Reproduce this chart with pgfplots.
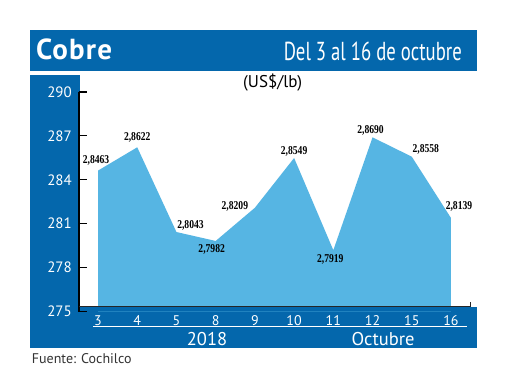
\documentclass[border=0pt]{standalone}
\usepackage{pgfplots}
\pgfplotsset{compat=1.18}
\usepackage{pgfplotstable}
\usepackage{graphicx}
\usepackage{fontspec}
\setmainfont{PT Sans}
\newfontfamily\datafont{Liberation Serif}
\newfontfamily\titlefont[LetterSpace=4]{PT Sans}
\definecolor{band}{RGB}{4,103,172}
\definecolor{areafill}{RGB}{86,181,227}

\pgfplotstableread{
x y lab dx dy
0 284.63 2,8463 -2 10
1 286.22 2,8622 0 10
2 280.43 2,8043 14 7
3 279.82 2,7982 -4 -8
4 282.09 2,8209 -20 1
5 285.49 2,8549 0 7
6 279.19 2,7919 -3 -9
7 286.90 2,8690 -2 7
8 285.58 2,8558 14 7
9 281.39 2,8139 8 12
}\datatable

\begin{document}
\begin{tikzpicture}[x=1pt,y=1pt]
\path[use as bounding box, fill=white] (0,0) rectangle (520,390);
\fill[band] (30,319) rectangle (477,360);
\fill[band] (30,42) rectangle (80,315);
\fill[band] (30,42) rectangle (477,83);
\begin{axis}[
  at={(79pt,78.5pt)}, anchor=south west,
  scale only axis, width=391pt, height=219.5pt,
  xmin=-0.485, xmax=9.485, ymin=275, ymax=290,
  axis x line*=bottom, axis y line*=left,
  x axis line style={draw=none},
  y axis line style={black, line width=1.3pt},
  xtick={0,...,9},
  xticklabels={\mbox{3},\mbox{4},\mbox{5},\mbox{8},\mbox{9},\mbox{10},\mbox{11},\mbox{12},\mbox{15},\mbox{16}},
  ytick={275,278,281,284,287,290},
  xtick style={draw=none},
  ytick style={black, line width=1.2pt},
  tick align=inside, major tick length=8pt,
  /pgf/number format/assume math mode=true,
  yticklabel style={font=\fontsize{15}{15}\selectfont, text=white, anchor=east, inner sep=0pt, xshift=-7pt},
  xticklabel style={font=\fontsize{14}{14}\selectfont, text=white, anchor=north, inner sep=0pt, yshift=-3.6pt},
  clip mode=individual,
]
\addplot[fill=areafill, draw=none,
  point meta=explicit symbolic,
  visualization depends on={\thisrow{dx}\as\dx},
  visualization depends on={\thisrow{dy}\as\dy},
  nodes near coords={\scalebox{0.8}[1]{\pgfplotspointmeta}},
  every node near coord/.append style={text=black, fill=none, draw=none, anchor=center, inner sep=0pt,
     xshift=\dx pt, yshift=\dy pt, font=\fontsize{12}{12}\selectfont\datafont\bfseries},
] table[x=x, y=y, meta=lab] {\datatable} \closedcycle;
\end{axis}
\fill[band] (80,78.5) rectangle (470,83);
\draw[black!85, line width=1pt] (79,83) -- (470,83) -- (470,88);
\draw[black, line width=1.2pt] (78.4,78.5) -- (87,78.5);
\node[anchor=base west, text=white, inner sep=0pt] at (36,330.7) {\fontsize{29}{29}\selectfont\titlefont\bfseries Cobre};
\node[anchor=base east, text=white, inner sep=0pt] at (462,329) {\scalebox{0.72}[1]{\fontsize{26}{26}\selectfont Del 3 al 16 de octubre}};
\node[inner sep=0pt] at (272.7,307.3) {\fontsize{17}{17}\selectfont (US\$/lb)};
\draw[white, line width=0.8pt] (93,64) -- (467,64);
\node[text=white, inner sep=0pt] at (207,51) {\fontsize{18.5}{18.5}\selectfont 2018};
\node[text=white, inner sep=0pt] at (383,51) {\fontsize{18.5}{18.5}\selectfont Octubre};
\node[anchor=west, inner sep=0pt, text=black!80] at (31.7,31) {\fontsize{14}{14}\selectfont Fuente: Cochilco};
\end{tikzpicture}
\end{document}
